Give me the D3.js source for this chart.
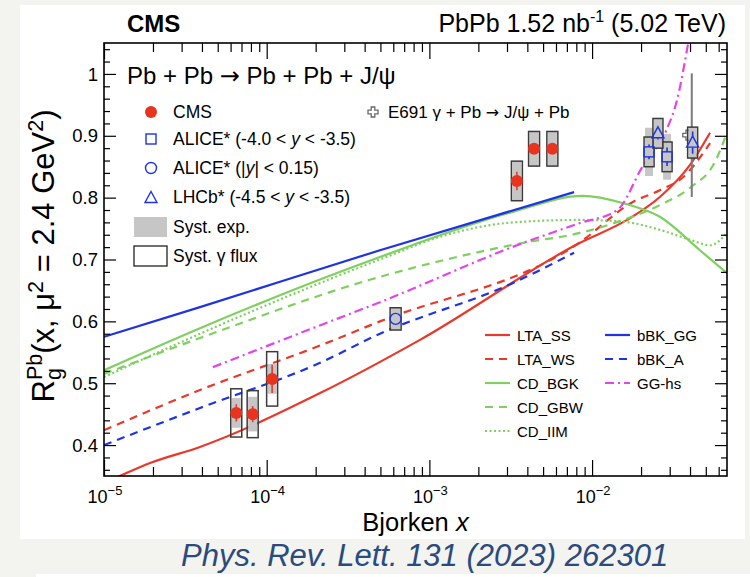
<!DOCTYPE html>
<html><head><meta charset="utf-8">
<script src="https://cdn.jsdelivr.net/npm/d3@7"></script>
<style>
html,body{margin:0;padding:0;background:#f3f3ef;}
svg{display:block;font-family:"Liberation Sans",Arial,Helvetica,sans-serif;}
</style></head><body>
<svg id="chart" width="750" height="577"></svg>
<script>
// ---------------- data ----------------
const cmsX        = [6.5e-5, 8.2e-5, 1.08e-4, 3.45e-3, 4.4e-3, 5.7e-3];
const cmsY        = [0.452, 0.450, 0.507, 0.827, 0.879, 0.879];
const cmsStat     = [0.014, 0.013, 0.023, 0.015, 0.006, 0.006];
const cmsSystExp  = [0.024, 0.028, 0.024, 0.032, 0.028, 0.028];
const cmsSystFlux = [0.039, 0.038, 0.044, 0.032, 0.028, 0.028];

const aliceFwdX = [2.24e-2, 2.89e-2];
const aliceFwdY = [0.874, 0.866];
const aliceFwdStat = [0.012, 0.015];
const aliceFwdSystExp = [0.039, 0.037];
const aliceFwdSystFlux = [0.024, 0.024];

const aliceMidX = [6.2e-4];
const aliceMidY = [0.604];
const aliceMidStat = [0.004];
const aliceMidSystExp = [0.018];
const aliceMidSystFlux = [0.018];

const lhcbX = [2.54e-2, 4.15e-2];
const lhcbY = [0.904, 0.889];
const lhcbStat = [0.010, 0.018];
const lhcbSystExp = [0.024, 0.025];
const lhcbSystFlux = [0.024, 0.025];

const e691X = [4.1e-2];
const e691Y = [0.901];
const e691Err = [0.10];

const curveLTA_SS = [[1e-5,0.339],[1.25e-5,0.350],[1.92e-5,0.371],[3.89e-5,0.397],[2.13e-4,0.484],[8.75e-4,0.570],[8.43e-3,0.727],[1.64e-2,0.764],[2.61e-2,0.801],[4.0e-2,0.853],[5.31e-2,0.905]];
const curveLTA_WS = [[1e-5,0.424],[3.89e-5,0.489],[2.13e-4,0.561],[4.97e-4,0.600],[8.43e-3,0.728],[1.78e-2,0.793],[2.61e-2,0.812],[3.62e-2,0.833],[5.31e-2,0.888]];
const curveCD_BGK = [[1e-5,0.521],[3.89e-5,0.589],[4.97e-4,0.704],[3.27e-3,0.777],[8.73e-3,0.803],[1.56e-2,0.791],[2.61e-2,0.769],[4.6e-2,0.715],[6.75e-2,0.678]];
const curveCD_GBW = [[1e-5,0.515],[3.89e-5,0.573],[4.97e-4,0.672],[3.79e-3,0.727],[8.43e-3,0.743],[1.56e-2,0.764],[2.61e-2,0.788],[4.0e-2,0.816],[5.7e-2,0.858],[6.75e-2,0.905]];
const curveCD_IIM = [[1e-5,0.510],[3.89e-5,0.580],[4.97e-4,0.700],[1.28e-3,0.740],[3.27e-3,0.760],[8.43e-3,0.764],[1.56e-2,0.761],[2.61e-2,0.748],[4.0e-2,0.732],[5.3e-2,0.723],[6.75e-2,0.743]];
const curveBBK_GG = [[1e-5,0.575],[3.89e-5,0.623],[4.97e-4,0.715],[7.75e-3,0.809]];
const curveBBK_A  = [[1e-5,0.400],[3.89e-5,0.460],[2.13e-4,0.533],[4.97e-4,0.580],[3.27e-3,0.662],[7.75e-3,0.711]];
const curveGG_HS  = [[4.67e-5,0.526],[1.92e-4,0.589],[4.97e-4,0.631],[3.79e-3,0.727],[8.43e-3,0.759],[1.43e-2,0.780],[2.04e-2,0.850],[2.86e-2,0.909],[3.33e-2,0.958],[3.9e-2,1.050],[4.15e-2,1.09]];

const xMajorTicks = [1e-5, 1e-4, 1e-3, 1e-2];
const xTickExps = ["\u22125", "\u22124", "\u22123", "\u22122"];
const yMajorTicks = [0.4, 0.5, 0.6, 0.7, 0.8, 0.9, 1.0];
const yTickLabels = ["0.4", "0.5", "0.6", "0.7", "0.8", "0.9", "1"];

// ---------------- styles ----------------
const RED = "#e8392b", BLUE = "#1f33e0", GREEN = "#7fd060", MAG = "#e445ea";
const series = [
  {name:"LTA_SS", data:curveLTA_SS, color:RED,   dash:null},
  {name:"LTA_WS", data:curveLTA_WS, color:RED,   dash:"8,6"},
  {name:"CD_BGK", data:curveCD_BGK, color:GREEN, dash:null},
  {name:"CD_GBW", data:curveCD_GBW, color:GREEN, dash:"8,6"},
  {name:"CD_IIM", data:curveCD_IIM, color:GREEN, dash:"2,2.5"},
  {name:"bBK_GG", data:curveBBK_GG, color:BLUE,  dash:null},
  {name:"bBK_A",  data:curveBBK_A,  color:BLUE,  dash:"8,6"},
  {name:"GG-hs",  data:curveGG_HS,  color:MAG,   dash:"9,4,2,4"}
];

const L = 104, R = 727, T = 43, B = 476;
const svg = d3.select("#chart");

// backgrounds
svg.append("rect").attr("x",0).attr("y",0).attr("width",750).attr("height",577).attr("fill","#f3f3ef");
svg.append("rect").attr("x",20).attr("y",5).attr("width",725).attr("height",534).attr("fill","#ffffff");
svg.append("rect").attr("x",36).attr("y",574).attr("width",714).attr("height",3).attr("fill","#ffffff");

const x = d3.scaleLog().domain([1e-5, 0.0675]).range([L, R]);
const y = d3.scaleLinear().domain([0.35, 1.05]).range([B, T]);

svg.append("clipPath").attr("id","clip").append("rect")
  .attr("x",L).attr("y",T).attr("width",R-L).attr("height",B-T);

const plot = svg.append("g").attr("clip-path","url(#clip)");

// curves
const line = d3.line().x(d=>x(d[0])).y(d=>y(d[1])).curve(d3.curveMonotoneX);
series.forEach(s=>{
  plot.append("path").attr("d",line(s.data)).attr("fill","none")
    .attr("stroke",s.color).attr("stroke-width",2.2)
    .attr("stroke-dasharray",s.dash);
});

// E691 error bar (behind boxes)
e691X.forEach((xv,i)=>{
  plot.append("line").attr("x1",x(xv)).attr("x2",x(xv))
    .attr("y1",y(e691Y[i]-e691Err[i])).attr("y2",y(e691Y[i]+e691Err[i]))
    .attr("stroke","#7a7a7a").attr("stroke-width",2);
});
function openCross(g, cx, cy, s, w){
  const a=s, b=w;
  const p = `M${cx-b},${cy-a}H${cx+b}V${cy-b}H${cx+a}V${cy+b}H${cx+b}V${cy+a}H${cx-b}V${cy+b}H${cx-a}V${cy-b}H${cx-b}Z`;
  g.append("path").attr("d",p).attr("fill","#fff").attr("stroke","#6a6a6a").attr("stroke-width",1.3);
}
e691X.forEach((xv,i)=> openCross(plot, x(xv)-4, y(e691Y[i]), 5, 1.8));

// systematic boxes
function boxes(xs, ys, exp, flux, w){
  xs.forEach((xv,i)=>{
    const cx = x(xv);
    plot.append("rect").attr("x",cx-w/2+1).attr("width",w-2)
      .attr("y",y(ys[i]+exp[i])).attr("height",y(ys[i]-exp[i])-y(ys[i]+exp[i]))
      .attr("fill","#c6c6c6");
    plot.append("rect").attr("x",cx-w/2).attr("width",w)
      .attr("y",y(ys[i]+flux[i])).attr("height",y(ys[i]-flux[i])-y(ys[i]+flux[i]))
      .attr("fill","none").attr("stroke","#3c3c3c").attr("stroke-width",1.5);
  });
}
boxes(cmsX, cmsY, cmsSystExp, cmsSystFlux, 11);
boxes(aliceFwdX, aliceFwdY, aliceFwdSystExp, aliceFwdSystFlux, 10);
boxes(aliceMidX, aliceMidY, aliceMidSystExp, aliceMidSystFlux, 11);
boxes(lhcbX, lhcbY, lhcbSystExp, lhcbSystFlux, 10);

// error bars + markers
function errBars(xs, ys, es, color, gap){
  xs.forEach((xv,i)=>{
    const cx=x(xv), cy=y(ys[i]);
    const top=y(ys[i]+es[i]), bot=y(ys[i]-es[i]);
    if (cy-gap>top) plot.append("line").attr("x1",cx).attr("x2",cx).attr("y1",top).attr("y2",cy-gap).attr("stroke",color).attr("stroke-width",1.6);
    if (bot>cy+gap) plot.append("line").attr("x1",cx).attr("x2",cx).attr("y1",cy+gap).attr("y2",bot).attr("stroke",color).attr("stroke-width",1.6);
  });
}
errBars(cmsX, cmsY, cmsStat, RED, 0);
errBars(aliceFwdX, aliceFwdY, aliceFwdStat, BLUE, 5);
errBars(aliceMidX, aliceMidY, aliceMidStat, BLUE, 5);
errBars(lhcbX, lhcbY, lhcbStat, BLUE, 5);

const MRED = "#e8331f";
function markCircleFilled(g,cx,cy){ g.append("circle").attr("cx",cx).attr("cy",cy).attr("r",6).attr("fill",MRED); }
function markSquare(g,cx,cy){ g.append("rect").attr("x",cx-5).attr("y",cy-5).attr("width",10).attr("height",10).attr("fill","none").attr("stroke",BLUE).attr("stroke-width",1.4); }
function markCircle(g,cx,cy){ g.append("circle").attr("cx",cx).attr("cy",cy).attr("r",5.5).attr("fill","none").attr("stroke",BLUE).attr("stroke-width",1.4); }
function markTri(g,cx,cy){ g.append("path").attr("d",`M${cx},${cy-6.5}L${cx+6},${cy+4.5}L${cx-6},${cy+4.5}Z`).attr("fill","none").attr("stroke",BLUE).attr("stroke-width",1.4); }

cmsX.forEach((xv,i)=>markCircleFilled(plot,x(xv),y(cmsY[i])));
aliceFwdX.forEach((xv,i)=>markSquare(plot,x(xv),y(aliceFwdY[i])));
aliceMidX.forEach((xv,i)=>markCircle(plot,x(xv),y(aliceMidY[i])));
lhcbX.forEach((xv,i)=>markTri(plot,x(xv),y(lhcbY[i])));

// ---------------- axes ----------------
const axCol = "#000";
const minorX = x.ticks().filter(t=>!xMajorTicks.some(m=>Math.abs(m-t)/t<1e-6));
const minorY = d3.range(0.36, 1.05, 0.02).filter(t=>!yMajorTicks.some(m=>Math.abs(m-t)<1e-6));

function drawAxis(axis, transform){
  const g = svg.append("g").attr("transform",transform).call(axis);
  g.select(".domain").remove();
  g.selectAll("text").remove();
  g.selectAll("line").attr("stroke",axCol).attr("stroke-width",1.2);
  return g;
}
drawAxis(d3.axisBottom(x).tickValues(xMajorTicks).tickSize(-16), `translate(0,${B})`);
drawAxis(d3.axisBottom(x).tickValues(minorX).tickSize(-9), `translate(0,${B})`);
drawAxis(d3.axisTop(x).tickValues(xMajorTicks).tickSize(-16), `translate(0,${T})`);
drawAxis(d3.axisTop(x).tickValues(minorX).tickSize(-9), `translate(0,${T})`);
drawAxis(d3.axisLeft(y).tickValues(yMajorTicks).tickSize(-12), `translate(${L},0)`);
drawAxis(d3.axisLeft(y).tickValues(minorY).tickSize(-6), `translate(${L},0)`);
drawAxis(d3.axisRight(y).tickValues(yMajorTicks).tickSize(-12), `translate(${R},0)`);
drawAxis(d3.axisRight(y).tickValues(minorY).tickSize(-6), `translate(${R},0)`);

svg.append("rect").attr("x",L).attr("y",T).attr("width",R-L).attr("height",B-T)
  .attr("fill","none").attr("stroke","#000").attr("stroke-width",1.6);

// tick labels
yMajorTicks.forEach((t,i)=>{
  svg.append("text").attr("x",98).attr("y",y(t)).attr("dy","0.36em")
    .attr("text-anchor","end").attr("font-size",18.5).attr("fill","#000").text(yTickLabels[i]);
});
xMajorTicks.forEach((t,i)=>{
  const tx = svg.append("text").attr("x",x(t)+1).attr("y",502.5)
    .attr("text-anchor","middle").attr("font-size",18).attr("fill","#000");
  tx.append("tspan").text("10");
  tx.append("tspan").attr("font-size",13).attr("dy",-8).text(xTickExps[i]);
});

// axis titles
const xt = svg.append("text").attr("x",(L+R)/2).attr("y",531).attr("text-anchor","middle")
  .attr("font-size",25.5).attr("fill","#000");
xt.append("tspan").text("Bjorken ");
xt.append("tspan").attr("font-style","italic").text("x");

const yt = svg.append("text").attr("transform","translate(54,256) rotate(-90)")
  .attr("text-anchor","middle").attr("font-size",31).attr("fill","#000");
yt.append("tspan").text("R");
yt.append("tspan").attr("font-size",21.5).attr("dy",7).text("g");
yt.append("tspan").attr("font-size",21.5).attr("dx",-12).attr("dy",-19.5).text("Pb");
yt.append("tspan").attr("dy",12.5).text("(x, \u03bc");
yt.append("tspan").attr("font-size",21.5).attr("dy",-11.5).text("2");
yt.append("tspan").attr("dy",11.5).text(" = 2.4 GeV");
yt.append("tspan").attr("font-size",21.5).attr("dy",-11.5).text("2");
yt.append("tspan").attr("dy",11.5).text(")");

// header
svg.append("text").attr("x",127).attr("y",32).attr("font-size",24).attr("font-weight","bold").text("CMS");
const hr = svg.append("text").attr("x",726).attr("y",32).attr("text-anchor","end").attr("font-size",25);
hr.append("tspan").text("PbPb 1.52 nb");
hr.append("tspan").attr("font-size",16).attr("dy",-10).text("-1");
hr.append("tspan").attr("dy",10).text(" (5.02 TeV)");

// process title
const pt = svg.append("text").attr("x",127).attr("y",84).attr("font-size",24);
pt.append("tspan").text("Pb + Pb ");
pt.append("tspan").attr("font-family","DejaVu Sans").text("\u2192");
pt.append("tspan").text(" Pb + Pb + J/\u03c8");

// left legend
const lgX = 151, lgT = 173, fs = 17.5;
const rowsY = [112, 139, 168, 197, 227, 256];
markCircleFilled(svg, lgX, rowsY[0]);
markSquare(svg, lgX, rowsY[1]);
markCircle(svg, lgX, rowsY[2]);
markTri(svg, lgX, rowsY[3]+1);
svg.append("rect").attr("x",134).attr("y",rowsY[4]-10).attr("width",33).attr("height",20).attr("fill","#c6c6c6");
svg.append("rect").attr("x",134).attr("y",rowsY[5]-10).attr("width",33).attr("height",20).attr("fill","none").attr("stroke","#222").attr("stroke-width",1.3);
function legText(yc, parts){
  const t = svg.append("text").attr("x",lgT).attr("y",yc+6).attr("font-size",fs).attr("fill","#000");
  parts.forEach(p=>{ const s=t.append("tspan").text(p[0]); if(p[1]) s.attr("font-style","italic"); });
}
legText(rowsY[0], [["CMS"]]);
legText(rowsY[1], [["ALICE* (-4.0 < "],["y",1],[" < -3.5)"]]);
legText(rowsY[2], [["ALICE* (|"],["y",1],["| < 0.15)"]]);
legText(rowsY[3], [["LHCb* (-4.5 < "],["y",1],[" < -3.5)"]]);
legText(rowsY[4], [["Syst. exp."]]);
legText(rowsY[5], [["Syst. \u03b3 flux"]]);

openCross(svg, 373, 112, 5, 1.8);
const et = svg.append("text").attr("x",388).attr("y",118).attr("font-size",17);
et.append("tspan").text("E691 \u03b3 + Pb ");
et.append("tspan").attr("font-family","DejaVu Sans").attr("font-size",16).text("\u2192");
et.append("tspan").text(" J/\u03c8 + Pb");

// right legend
const rl = [
  {s:series[0], lx:485, tx:517, yc:335},
  {s:series[1], lx:485, tx:517, yc:359},
  {s:series[2], lx:485, tx:517, yc:383},
  {s:series[3], lx:485, tx:517, yc:407},
  {s:series[4], lx:485, tx:517, yc:431},
  {s:series[5], lx:605, tx:637, yc:335},
  {s:series[6], lx:605, tx:637, yc:359},
  {s:series[7], lx:605, tx:637, yc:383}
];
rl.forEach(e=>{
  svg.append("line").attr("x1",e.lx).attr("x2",e.lx+25).attr("y1",e.yc).attr("y2",e.yc)
    .attr("stroke",e.s.color).attr("stroke-width",2.2).attr("stroke-dasharray",e.s.dash);
  svg.append("text").attr("x",e.tx).attr("y",e.yc+5.5).attr("font-size",15).text(e.s.name);
});

// citation
svg.append("text").attr("x",181).attr("y",566).attr("font-size",31).attr("font-style","italic")
  .attr("fill","#2b4a7e").text("Phys. Rev. Lett. 131 (2023) 262301");
</script>
</body></html>
